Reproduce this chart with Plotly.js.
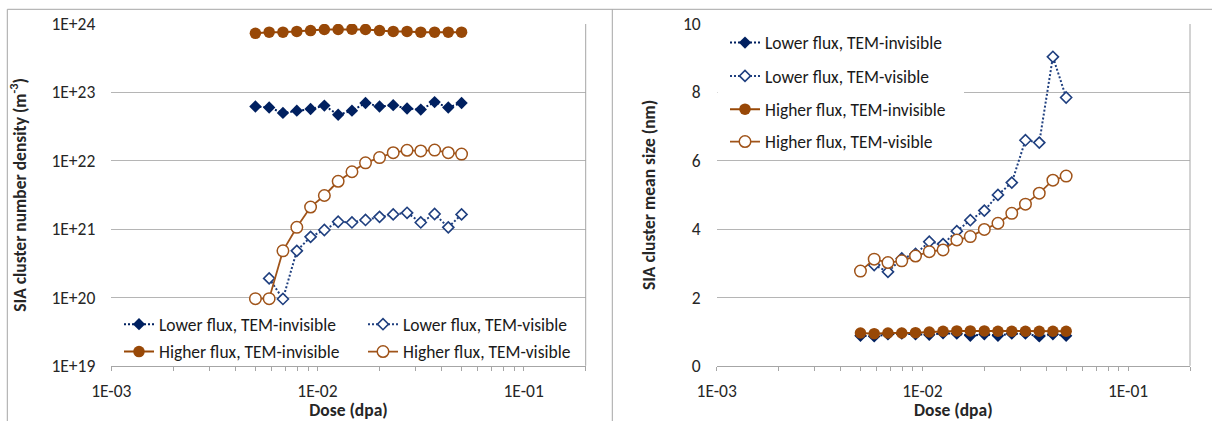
<!DOCTYPE html>
<html>
<head>
<meta charset="utf-8">
<script src="https://cdn.plot.ly/plotly-3.0.1.min.js"></script>
<style>
  html, body { margin: 0; padding: 0; background: #ffffff; }
  #chart { width: 1212px; height: 421px; }
</style>
</head>
<body>
<div id="chart"></div>
<script>
// ---------------- data ----------------
const dose = [0.005, 0.00583, 0.0068, 0.00794, 0.00926, 0.0108, 0.0126, 0.0147,
              0.0171, 0.02, 0.0233, 0.0272, 0.0317, 0.037, 0.0431, 0.05];

// left panel: SIA cluster number density (m^-3)
const lowInvisDensity  = [6.2e22, 6.0e22, 5.0e22, 5.4e22, 5.7e22, 6.4e22, 4.7e22, 5.4e22,
                          7.0e22, 6.2e22, 6.5e22, 5.8e22, 5.6e22, 7.2e22, 6.0e22, 7.0e22];
const lowVisDensity    = [null, 1.9e20, 9.5e19, 4.8e20, 7.7e20, 9.7e20, 1.28e21, 1.25e21,
                          1.36e21, 1.51e21, 1.64e21, 1.73e21, 1.25e21, 1.66e21, 1.06e21, 1.64e21];
const highInvisDensity = [7.3e23, 7.6e23, 7.6e23, 7.8e23, 8.0e23, 8.3e23, 8.3e23, 8.4e23,
                          8.3e23, 8.0e23, 7.8e23, 7.8e23, 7.6e23, 7.6e23, 7.6e23, 7.6e23];
const highVisDensity   = [9.6e19, 9.6e19, 4.8e20, 1.06e21, 2.1e21, 3.1e21, 5.0e21, 6.9e21,
                          9.3e21, 1.11e22, 1.31e22, 1.42e22, 1.39e22, 1.43e22, 1.31e22, 1.25e22];

// right panel: SIA cluster mean size (nm)
const lowInvisSize  = [0.88, 0.86, 0.92, 0.94, 0.92, 0.91, 0.95, 0.94,
                       0.88, 0.92, 0.88, 0.94, 0.94, 0.86, 0.92, 0.88];
const lowVisSize    = [null, 2.95, 2.75, 3.14, 3.27, 3.63, 3.56, 3.94,
                       4.26, 4.54, 5.0, 5.36, 6.60, 6.53, 9.04, 7.85];
const highInvisSize = [0.96, 0.94, 0.96, 0.96, 0.97, 0.99, 1.01, 1.02,
                       1.02, 1.02, 1.01, 1.01, 1.01, 1.01, 1.01, 1.01];
const highVisSize   = [2.77, 3.12, 3.02, 3.07, 3.21, 3.34, 3.39, 3.68,
                       3.78, 3.99, 4.17, 4.46, 4.73, 5.05, 5.43, 5.55];

const seriesNames = ['Lower flux, TEM-invisible', 'Lower flux, TEM-visible',
                     'Higher flux, TEM-invisible', 'Higher flux, TEM-visible'];

const xDecades = [0.001, 0.01, 0.1];
const xDecadeLabels = ['1E-03', '1E-02', '1E-01'];
const yLeftTicks = [1e19, 1e20, 1e21, 1e22, 1e23, 1e24];
const yLeftLabels = ['1E+19', '1E+20', '1E+21', '1E+22', '1E+23', '1E+24'];
const yRightTicks = [0, 2, 4, 6, 8, 10];
const yRightLabels = ['0', '2', '4', '6', '8', '10'];

const xTitle = '<b>Dose (dpa)</b>';
const yLeftTitle = '<b>SIA cluster number density (m<sup>-3</sup>)</b>';
const yRightTitle = '<b>SIA cluster mean size (nm)</b>';

// ---------------- styling ----------------
const W = 1212, H = 421;
const px = v => v / W;           // pixel -> paper x
const py = v => (H - v) / H;     // pixel -> paper y

const FONT = 'Carlito, Lato, "Open Sans", sans-serif';
const NAVY = '#002060', NAVY2 = '#1F3F7F', BROWN = '#984807', BROWN2 = '#A0541A';
const GRID = '#b5b5b5', AXIS = '#a6a6a6';
const FS = 17.5;

// minor ticks on the log x axes (2..9 x each decade, up to the axis end at 0.2)
const xMinorVals = [];
xDecades.forEach(d => {
  for (let m = 2; m <= 9; m++) {
    const v = d * m;
    if (v <= 0.2000001) xMinorVals.push(v);
  }
});

const styles = [
  { line: { color: NAVY, width: 2, dash: '2px,2px' },
    marker: { symbol: 'diamond', size: 9.5, color: NAVY } },
  { line: { color: NAVY2, width: 2, dash: '2px,2px' },
    marker: { symbol: 'diamond', size: 8.5, color: '#ffffff', line: { color: NAVY2, width: 1.6 } } },
  { line: { color: BROWN, width: 2 },
    marker: { symbol: 'circle', size: 11.5, color: BROWN } },
  { line: { color: BROWN2, width: 1.8 },
    marker: { symbol: 'circle', size: 11.5, color: '#ffffff', line: { color: BROWN2, width: 1.5 } } }
];

const leftY = [lowInvisDensity, lowVisDensity, highInvisDensity, highVisDensity];
const rightY = [lowInvisSize, lowVisSize, highInvisSize, highVisSize];

const traces = [];
leftY.forEach((ys, i) => {
  traces.push(Object.assign({
    type: 'scatter', mode: 'lines+markers', x: dose, y: ys, name: seriesNames[i],
    xaxis: 'x', yaxis: 'y', legend: i === 0 ? 'legend' : 'legend' + (i + 1),
    connectgaps: false, hoverinfo: 'skip'
  }, JSON.parse(JSON.stringify(styles[i]))));
});
rightY.forEach((ys, i) => {
  traces.push(Object.assign({
    type: 'scatter', mode: 'lines+markers', x: dose, y: ys, name: seriesNames[i],
    xaxis: 'x2', yaxis: 'y2', legend: 'legend' + (i + 5),
    connectgaps: false, hoverinfo: 'skip'
  }, JSON.parse(JSON.stringify(styles[i]))));
});

const tickFont = { family: FONT, size: FS, color: '#262626' };
const titleFont = { family: FONT, size: FS, color: '#262626' };

function xAxis(domain, anchor) {
  return {
    type: 'log', domain: domain, anchor: anchor, range: [-3, Math.log10(0.2)],
    tickmode: 'array', tickvals: xDecades, ticktext: xDecadeLabels,
    ticks: 'outside', ticklen: 4, tickwidth: 1, tickcolor: AXIS,
    minor: { tickmode: 'array', tickvals: xMinorVals, ticks: 'outside', ticklen: 4,
             tickwidth: 1, tickcolor: AXIS, showgrid: false },
    showline: true, linecolor: AXIS, linewidth: 1, showgrid: false, zeroline: false,
    tickfont: tickFont, ticklabelstandoff: 5,
    title: { text: xTitle, font: titleFont, standoff: 8 }
  };
}
function yAxis(domain, anchor, extra) {
  return Object.assign({
    domain: domain, anchor: anchor, tickmode: 'array',
    ticks: '', showline: false, showgrid: true, gridcolor: GRID, gridwidth: 1,
    zeroline: false, tickfont: tickFont, ticklabelstandoff: 15
  }, extra);
}

const yDom = [py(365.8), py(24)];

function legendAt(xPix, yPix) {
  return {
    x: px(xPix), y: py(yPix), xanchor: 'left', yanchor: 'middle',
    orientation: 'v', bgcolor: 'rgba(0,0,0,0)', borderwidth: 0,
    font: { family: FONT, size: FS, color: '#1a1a1a' }, itemclick: false
  };
}

const layout = {
  width: W, height: H, autosize: false,
  margin: { l: 0, r: 0, t: 0, b: 0, pad: 0 },
  paper_bgcolor: '#ffffff', plot_bgcolor: 'rgba(0,0,0,0)',
  font: { family: FONT, size: FS, color: '#262626' },
  showlegend: true,
  xaxis: xAxis([px(111.3), px(585.7)], 'y'),
  xaxis2: xAxis([px(716.7), px(1190)], 'y2'),
  yaxis: yAxis(yDom, 'x', {
    type: 'log', range: [19, 24], tickvals: yLeftTicks, ticktext: yLeftLabels,
    title: { text: yLeftTitle, font: titleFont, standoff: 20 }
  }),
  yaxis2: yAxis(yDom, 'x2', {
    type: 'linear', range: [0, 10], tickvals: yRightTicks, ticktext: yRightLabels,
    title: { text: yRightTitle, font: titleFont, standoff: 22 }
  }),
  legend:  legendAt(119, 324.3),
  legend2: legendAt(363, 324.3),
  legend3: legendAt(119, 351.7),
  legend4: legendAt(363, 351.7),
  legend5: legendAt(725, 42.7),
  legend6: legendAt(725, 76),
  legend7: legendAt(725, 109.3),
  legend8: legendAt(725, 141.7),
  shapes: [
    // chart frames
    { type: 'line', xref: 'paper', yref: 'paper', x0: px(7.3), x1: px(7.3), y0: py(9.3), y1: -0.02,
      line: { color: AXIS, width: 1 } },
    { type: 'line', xref: 'paper', yref: 'paper', x0: px(7.3), x1: 1.01, y0: py(9.3), y1: py(9.3),
      line: { color: AXIS, width: 1 } },
    { type: 'line', xref: 'paper', yref: 'paper', x0: px(612.3), x1: px(612.3), y0: py(9.3), y1: -0.02,
      line: { color: AXIS, width: 1 } },
    // right-hand plot-area edges
    { type: 'line', xref: 'x domain', yref: 'y domain', x0: 1, x1: 1, y0: 0, y1: 1,
      line: { color: AXIS, width: 1 } },
    { type: 'line', xref: 'x2 domain', yref: 'y2 domain', x0: 1, x1: 1, y0: 0, y1: 1,
      line: { color: AXIS, width: 1 } },
    // white legend box on the right panel (hides the gridline behind it)
    { type: 'rect', xref: 'paper', yref: 'paper', x0: px(717.5), x1: px(964), y0: py(156), y1: py(28),
      fillcolor: '#ffffff', line: { width: 0 }, layer: 'above' }
  ]
};

Plotly.newPlot('chart', traces, layout, { staticPlot: true, displayModeBar: false });
</script>
</body>
</html>
